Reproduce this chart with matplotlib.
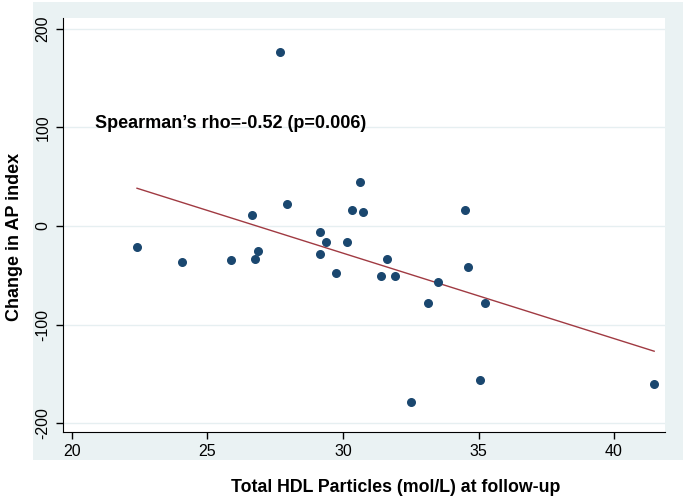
import numpy as np
import matplotlib.pyplot as plt
from matplotlib.patches import Rectangle

plt.rcParams['font.family'] = ['Liberation Sans', 'DejaVu Sans']

# total HDL particles at follow-up vs change in AP index
hdl = [22.4, 24.06, 25.87, 26.64, 26.75, 26.86, 27.68, 27.93, 29.15, 29.15,
       29.37, 29.74, 30.15, 30.33, 30.63, 30.74, 31.4, 31.62, 31.92, 32.51,
       33.14, 33.5, 34.5, 34.6, 35.06, 35.24, 41.48]
ap_change = [-21, -37, -35, 11, -34, -25, 176, 22, -6, -28,
             -16, -48, -16, 16, 45, 14, -51, -34, -51, -179,
             -78, -57, 16, -42, -156, -78, -160]

x_ticks = [20, 25, 30, 35, 40]
y_ticks = [-200, -100, 0, 100, 200]
annot = "Spearman\u2019s rho=-0.52 (p=0.006)"

fig = plt.figure(figsize=(6.85, 4.99), dpi=100, facecolor='white')
# light graph region behind the plot
fig.patches.append(Rectangle((33 / 685, 1 - 460 / 499), 650 / 685, 458 / 499,
                             transform=fig.transFigure, facecolor='#eaf2f3',
                             edgecolor='none', zorder=-5))

ax = fig.add_axes([63 / 685, 1 - 432 / 499, 602 / 685, 414 / 499])
ax.set_facecolor('white')

# fitted line
slope, intercept = np.polyfit(hdl, ap_change, 1)
xs = np.array([min(hdl), max(hdl)])
ax.plot(xs, slope * xs + intercept, color='#a03a42', linewidth=1.0, zorder=2)

ax.scatter(hdl, ap_change, s=30, color='#1a476f', zorder=3)

ax.set_xlim(19.67, 41.88)
ax.set_ylim(-209, 211)
ax.set_xticks(x_ticks)
ax.set_yticks(y_ticks)
ax.set_yticklabels([str(v) for v in y_ticks], rotation=90, va='center')
ax.tick_params(labelsize=11.5, length=5, width=1, pad=4)
ax.grid(axis='y', color='#e6eff1', linewidth=1)
ax.set_axisbelow(True)
for side in ['top', 'right']:
    ax.spines[side].set_visible(False)

ax.text(20.85, 104, annot, fontsize=13, fontweight='bold', va='center')

ax.set_xlabel('Total HDL Particles (mol/L) at follow-up', fontsize=12.8,
              fontweight='bold', va='center')
ax.xaxis.set_label_coords(0.553, -0.135)
ax.set_ylabel('Change in AP index', fontsize=13, fontweight='bold', va='center')
ax.yaxis.set_label_coords(-0.081, 0.47)

fig.savefig('out.png', dpi=100, facecolor='white')
